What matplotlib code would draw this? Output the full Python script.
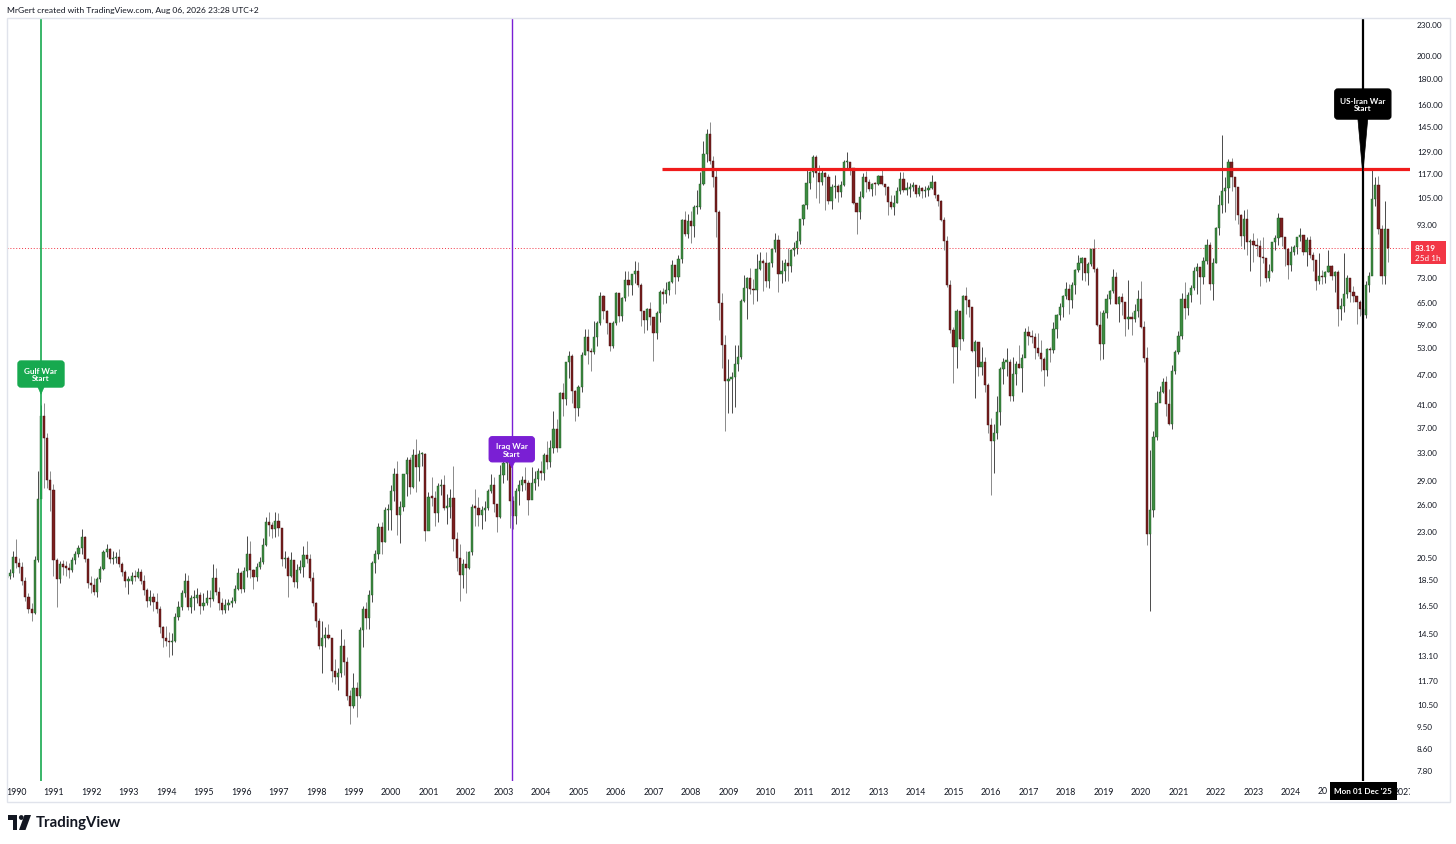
import matplotlib
matplotlib.use("Agg")
import matplotlib.pyplot as plt
import matplotlib.transforms as mtransforms
from matplotlib.patches import Polygon, Rectangle, FancyBboxPatch, Circle
from matplotlib.ticker import NullLocator, NullFormatter
import numpy as np

plt.rcParams['font.family'] = ['Lato', 'DejaVu Sans']

# monthly Brent candles, month index counted from Jan 1990 (first candle = Oct 1989)
first_month = -3
first_open = 18.6

closes = [
    18.8, 19.0, 20.5,                                                          # 1989 Oct-Dec
    19.9, 19.6, 18.4, 17.1, 16.2, 15.9, 20.2, 26.6, 38.9, 35.2, 29.1, 27.8,    # 1990
    20.2, 18.5, 19.8, 19.6, 19.5, 19.3, 20.2, 20.8, 21.3, 22.4, 20.3, 18.2,    # 1991
    18.0, 17.5, 18.5, 19.4, 20.9, 21.2, 20.3, 20.4, 20.5, 19.8, 19.1, 18.4,    # 1992
    18.4, 18.8, 18.7, 19.1, 18.4, 17.6, 16.8, 17.1, 16.7, 16.2, 14.9, 14.2,    # 1993
    14.0, 13.9, 14.0, 15.6, 16.3, 17.4, 18.4, 16.3, 17.0, 17.0, 17.2, 16.4,    # 1994
    16.6, 17.0, 16.9, 18.6, 17.5, 16.6, 16.1, 16.5, 16.6, 16.8, 17.7, 19.0,    # 1995
    17.7, 19.2, 20.8, 19.3, 18.7, 19.6, 20.0, 21.6, 24.0, 23.7, 23.3, 24.1,    # 1996
    23.4, 20.3, 20.4, 18.8, 20.2, 18.3, 19.3, 19.6, 20.7, 20.3, 18.6, 16.6,    # 1997
    15.3, 13.7, 14.2, 14.4, 14.2, 12.2, 11.9, 12.1, 13.7, 12.7, 10.9, 10.4,    # 1998
    11.3, 10.9, 14.7, 16.2, 15.5, 17.2, 19.9, 20.8, 23.5, 21.9, 25.3, 25.3,    # 1999
    27.6, 29.8, 24.8, 25.7, 29.8, 31.8, 28.1, 32.6, 30.8, 32.7, 32.7, 23.0,    # 2000
    26.9, 26.8, 25.0, 28.2, 28.4, 25.6, 25.7, 26.8, 22.2, 20.4, 18.9, 19.8,    # 2001
    19.5, 20.9, 25.7, 25.6, 24.8, 25.4, 25.6, 27.6, 28.4, 26.1, 24.6, 29.7,    # 2002
    31.4, 32.6, 26.4, 24.7, 27.6, 28.4, 29.0, 28.6, 26.5, 28.6, 29.2, 30.2,    # 2003
    30.0, 32.6, 31.5, 33.6, 36.6, 33.6, 43.0, 41.9, 49.6, 51.0, 43.5, 40.3,    # 2004
    44.2, 51.3, 55.6, 52.1, 51.8, 55.6, 59.2, 66.8, 62.6, 59.2, 53.3, 59.3,    # 2005
    67.9, 61.2, 66.3, 72.0, 70.4, 73.9, 75.1, 70.2, 62.5, 60.0, 63.1, 60.9,    # 2006
    56.6, 62.0, 68.1, 67.6, 68.8, 71.4, 77.1, 73.0, 79.2, 94.5, 88.8, 93.9,    # 2007
    91.8, 100.1, 100.3, 111.4, 127.4, 139.8, 123.5, 115.0, 98.2, 64.7, 53.5, 45.6,   # 2008
    45.9, 46.4, 49.2, 50.8, 65.4, 69.3, 72.5, 69.0, 68.8, 75.6, 78.5, 77.9,    # 2009
    71.5, 77.6, 82.7, 86.2, 74.0, 75.0, 77.9, 76.7, 82.3, 83.2, 85.9, 94.8,    # 2010
    101.0, 112.0, 117.4, 125.9, 116.7, 112.5, 116.7, 114.9, 102.8, 109.6, 110.5, 107.4,   # 2011
    110.9, 122.7, 122.9, 119.5, 101.9, 97.8, 104.9, 114.6, 112.4, 108.7, 111.2, 111.1,   # 2012
    115.6, 111.4, 110.0, 102.4, 100.4, 102.2, 107.7, 114.0, 108.4, 108.8, 109.7, 110.8,  # 2013
    106.4, 109.1, 107.8, 108.1, 109.4, 112.4, 106.0, 103.2, 94.7, 85.9, 70.2, 57.3,      # 2014
    53.0, 62.6, 55.1, 66.8, 65.6, 63.6, 52.2, 54.2, 48.4, 49.6, 44.6, 37.3,    # 2015
    34.7, 36.0, 39.6, 48.1, 49.7, 49.7, 42.5, 47.0, 49.1, 48.3, 50.5, 56.8,    # 2016
    55.7, 55.6, 52.8, 51.7, 50.3, 47.9, 52.7, 52.4, 57.5, 61.4, 63.6, 66.9,    # 2017
    69.1, 65.8, 70.3, 75.2, 77.6, 79.4, 74.3, 77.4, 82.7, 75.5, 58.7, 53.8,    # 2018
    61.9, 66.0, 68.4, 72.8, 64.5, 66.6, 65.2, 60.4, 60.8, 60.2, 62.4, 66.0,    # 2019
    58.2, 50.5, 22.7, 25.3, 35.3, 41.2, 43.3, 45.3, 41.0, 37.5, 47.6, 51.8,    # 2020
    55.9, 66.1, 63.5, 67.3, 69.3, 75.1, 76.3, 73.0, 78.3, 84.4, 70.6, 77.8,    # 2021
    91.2, 101.0, 107.9, 109.3, 122.8, 114.8, 110.0, 96.5, 88.0, 94.8, 85.4, 85.9,    # 2022
    84.5, 83.9, 79.8, 79.5, 72.7, 74.9, 85.6, 86.9, 95.3, 87.4, 82.8, 77.0,    # 2023
    81.7, 83.6, 87.5, 88.4, 81.6, 86.4, 80.7, 78.8, 71.8, 73.2, 72.9, 74.6,    # 2024
    76.8, 73.2, 74.7, 63.1, 63.9, 67.6, 72.5, 68.1, 67.0, 65.1, 63.2, 61.3,    # 2025
    70.5, 73.4, 104.0, 111.0, 90.7, 73.4, 90.7, 83.19,                          # 2026 Jan-Aug
]

highs = [
    19.3, 19.4, 21.0,
    22.2, 20.4, 20.0, 18.7, 17.4, 16.6, 20.6, 30.3, 40.9, 41.2, 36.0, 30.2,
    28.5, 20.4, 20.1, 20.2, 20.1, 19.9, 20.5, 21.0, 21.6, 23.3, 22.5, 20.4,
    18.8, 18.6, 18.7, 19.7, 21.1, 21.7, 21.3, 21.0, 20.9, 21.2, 20.0, 19.3,
    18.8, 19.1, 19.3, 19.5, 19.4, 18.9, 17.8, 17.6, 17.4, 17.4, 16.4, 15.0,
    15.0, 14.6, 14.5, 15.9, 16.8, 17.6, 19.0, 18.9, 17.2, 17.6, 17.8, 17.5,
    17.4, 17.6, 17.6, 19.8, 19.5, 17.9, 17.0, 16.9, 16.9, 17.1, 18.0, 19.5,
    19.2, 19.6, 22.5, 22.0, 19.4, 19.9, 20.5, 22.3, 24.6, 25.1, 24.0, 25.1,
    25.0, 23.3, 21.0, 20.6, 20.9, 20.1, 19.8, 20.2, 21.5, 22.0, 20.8, 19.1,
    16.7, 15.5, 15.3, 14.9, 15.1, 14.0, 12.9, 12.4, 14.8, 14.1, 13.0, 11.2,
    12.1, 11.6, 14.9, 16.4, 16.7, 17.6, 20.1, 21.1, 23.9, 24.0, 25.7, 26.1,
    28.4, 30.6, 31.6, 26.4, 29.9, 32.3, 32.2, 33.4, 35.0, 33.2, 33.0, 32.8,
    27.5, 29.5, 27.6, 28.6, 29.2, 29.7, 27.2, 27.9, 31.0, 22.9, 21.7, 20.3,
    21.0, 21.0, 26.0, 27.9, 26.9, 25.8, 26.4, 27.9, 29.9, 29.5, 26.1, 31.1,
    32.7, 34.3, 34.0, 27.0, 28.0, 29.0, 29.6, 30.8, 29.0, 30.8, 30.3, 30.7,
    31.6, 32.8, 34.6, 34.8, 39.8, 38.3, 43.3, 45.0, 49.7, 52.2, 51.5, 43.6,
    44.6, 51.9, 57.5, 57.6, 52.8, 59.8, 59.7, 68.2, 67.3, 62.7, 59.1, 59.8,
    68.3, 67.8, 66.5, 74.8, 74.8, 73.9, 78.6, 78.1, 71.0, 62.0, 63.4, 65.0,
    60.9, 62.4, 68.7, 69.3, 71.3, 71.8, 78.8, 77.2, 80.6, 94.8, 98.5, 96.9,
    98.5, 101.3, 108.3, 117.6, 135.4, 143.0, 147.5, 126.5, 118.6, 98.9, 67.9, 56.0,
    50.4, 47.3, 53.6, 53.6, 66.0, 73.5, 72.9, 75.9, 72.4, 81.0, 81.9, 79.3,
    81.7, 78.2, 82.8, 89.0, 88.4, 78.9, 79.3, 83.4, 82.9, 85.5, 89.8, 94.8,
    101.7, 119.8, 117.9, 127.0, 126.7, 121.5, 119.1, 117.6, 116.4, 111.5, 115.9, 111.5,
    112.7, 124.3, 128.4, 122.8, 119.6, 100.9, 107.6, 117.2, 118.0, 114.0, 111.9, 112.3,
    115.8, 119.2, 111.4, 110.5, 106.0, 105.9, 109.6, 117.3, 117.4, 112.1, 111.8, 112.4,
    110.1, 110.8, 110.0, 110.4, 110.6, 115.7, 112.8, 106.1, 103.6, 95.9, 87.9, 72.1,
    58.2, 63.0, 61.5, 67.1, 69.6, 66.1, 63.2, 54.7, 54.1, 53.1, 50.7, 45.0,
    38.5, 37.5, 42.5, 48.5, 50.5, 52.9, 50.4, 50.8, 49.8, 53.7, 51.5, 57.9,
    58.4, 57.4, 56.7, 56.6, 54.7, 50.7, 52.9, 53.0, 59.5, 61.7, 64.7, 67.1,
    71.3, 70.7, 71.3, 75.5, 80.5, 79.9, 79.4, 78.0, 83.0, 86.7, 76.5, 62.6,
    62.8, 67.5, 68.7, 75.6, 74.5, 66.9, 67.8, 62.5, 71.9, 62.3, 64.6, 68.7,
    71.8, 59.8, 53.0, 33.3, 36.2, 43.4, 44.4, 46.2, 46.5, 43.9, 49.0, 52.5,
    57.0, 67.7, 71.4, 68.1, 70.2, 76.2, 77.8, 76.0, 80.0, 86.7, 85.5, 79.7,
    91.7, 105.8, 139.1, 114.8, 124.4, 125.2, 114.0, 105.6, 97.3, 98.8, 99.4, 86.8,
    89.1, 86.9, 86.3, 87.5, 77.0, 77.5, 85.6, 88.1, 97.7, 93.8, 84.9, 79.9,
    83.8, 84.4, 87.6, 91.0, 84.4, 87.3, 87.9, 81.8, 75.0, 81.2, 75.4, 74.8,
    82.6, 77.0, 74.9, 75.3, 66.3, 81.4, 73.6, 70.0, 70.0, 66.8, 65.7, 64.5,
    71.5, 74.5, 119.5, 114.8, 115.5, 92.5, 103.0, 90.7,
]

lows = [
    18.2, 18.5, 18.7,
    19.5, 19.0, 18.0, 16.8, 15.9, 15.3, 15.8, 20.0, 26.8, 28.0, 28.0, 25.2,
    18.8, 16.3, 18.2, 18.9, 18.8, 18.6, 19.1, 19.8, 20.5, 20.8, 20.0, 17.8,
    17.4, 17.2, 17.1, 18.3, 19.3, 20.5, 19.9, 19.8, 19.9, 19.6, 18.8, 17.9,
    17.3, 18.1, 18.4, 18.6, 18.1, 17.2, 16.3, 16.5, 16.0, 15.9, 14.5, 13.6,
    13.7, 13.0, 13.1, 13.9, 15.4, 16.1, 17.1, 16.1, 15.9, 16.1, 16.6, 15.8,
    16.1, 16.5, 16.3, 16.8, 17.2, 16.1, 15.8, 15.9, 16.1, 16.3, 16.6, 17.6,
    17.4, 17.5, 18.7, 18.6, 17.7, 18.4, 19.4, 19.8, 21.5, 22.5, 22.3, 22.4,
    22.5, 19.7, 19.5, 17.1, 18.7, 17.9, 17.8, 19.0, 18.7, 19.9, 18.4, 16.4,
    14.9, 13.5, 12.1, 13.6, 14.1, 11.6, 11.5, 11.2, 11.9, 12.0, 10.7, 9.6,
    10.3, 9.9, 10.8, 13.6, 14.8, 14.8, 16.7, 19.0, 20.3, 20.8, 21.9, 23.1,
    23.1, 26.4, 22.6, 21.8, 25.2, 27.0, 27.3, 28.0, 27.5, 28.9, 31.0, 22.0,
    23.2, 25.8, 23.6, 24.0, 27.1, 25.4, 23.8, 24.4, 21.0, 19.2, 16.8, 17.8,
    17.4, 19.4, 20.7, 23.6, 23.6, 23.2, 24.1, 25.3, 27.4, 25.1, 22.9, 24.4,
    28.6, 29.1, 23.4, 23.2, 23.8, 25.9, 27.6, 27.8, 24.8, 26.6, 27.8, 28.2,
    29.0, 29.0, 30.5, 30.8, 32.8, 33.0, 34.0, 38.8, 40.8, 46.1, 41.2, 37.9,
    38.9, 43.2, 51.3, 49.1, 47.7, 51.5, 53.4, 58.6, 60.2, 56.3, 52.2, 52.8,
    58.6, 59.6, 59.8, 65.5, 67.0, 67.2, 71.1, 69.8, 58.3, 56.7, 57.3, 58.7,
    49.9, 55.1, 59.4, 64.6, 64.9, 67.1, 70.9, 67.5, 71.7, 77.9, 88.0, 87.2,
    85.0, 87.6, 97.2, 99.2, 110.6, 122.8, 121.6, 110.0, 87.5, 60.0, 48.2, 36.2,
    39.4, 39.4, 40.4, 47.6, 50.2, 65.0, 60.2, 67.5, 64.4, 65.4, 75.3, 68.6,
    69.8, 69.4, 76.2, 81.8, 68.3, 71.0, 71.7, 71.6, 74.7, 80.3, 81.1, 84.9,
    92.5, 99.3, 108.9, 114.8, 104.3, 102.1, 110.9, 98.7, 101.5, 99.2, 104.5, 102.7,
    105.0, 110.4, 119.5, 116.0, 101.6, 88.5, 95.1, 104.4, 107.2, 107.6, 105.6, 105.8,
    110.9, 110.6, 106.0, 96.8, 99.3, 96.8, 101.9, 106.2, 107.2, 106.0, 104.9, 107.6,
    104.9, 105.4, 104.6, 104.8, 105.4, 108.6, 104.2, 100.6, 94.0, 82.6, 69.8, 56.5,
    45.2, 48.3, 52.5, 54.6, 61.6, 60.9, 52.0, 42.2, 46.5, 46.8, 43.3, 36.0,
    27.1, 30.0, 35.0, 37.2, 44.9, 46.5, 41.5, 41.5, 44.6, 48.2, 43.3, 50.9,
    53.6, 54.0, 50.3, 50.9, 47.6, 44.4, 46.6, 49.6, 51.6, 55.2, 60.1, 60.8,
    66.1, 61.8, 63.3, 67.6, 74.7, 71.9, 71.7, 70.3, 76.8, 74.6, 58.4, 50.0,
    50.4, 60.6, 64.5, 67.7, 64.4, 59.4, 61.4, 55.9, 57.7, 56.2, 59.6, 60.8,
    57.9, 49.5, 21.6, 16.0, 24.5, 34.8, 41.5, 43.0, 38.9, 37.3, 36.6, 46.9,
    51.4, 55.0, 60.3, 61.5, 65.1, 68.9, 67.4, 64.6, 70.6, 77.5, 68.9, 65.7,
    77.8, 88.4, 97.4, 98.0, 102.2, 108.0, 94.3, 92.8, 84.1, 83.0, 80.6, 75.1,
    78.1, 80.3, 70.1, 77.7, 71.4, 71.6, 74.6, 82.3, 84.4, 83.9, 76.6, 72.3,
    74.8, 80.6, 81.1, 86.0, 80.6, 76.8, 79.5, 75.1, 68.7, 70.7, 70.8, 71.1,
    74.6, 72.0, 68.3, 58.4, 60.1, 62.2, 66.4, 65.0, 65.0, 59.0, 61.0, 57.6,
    60.5, 68.0, 76.3, 100.5, 88.5, 70.8, 70.7, 78.0,
]

price_ticks = [230, 200, 180, 160, 145, 129, 117, 105, 93, 73, 65, 59, 53, 47, 41,
               37, 33, 29, 26, 23, 20.5, 18.5, 16.5, 14.5, 13.1, 11.7, 10.5, 9.5, 8.6, 7.8]
years = list(range(1990, 2028))
# the cursor tag hides 2025/2026 on the time axis, only "20" of 2025 peeks out
year_labels = [str(y) for y in years]
year_labels[years.index(2025)] = ""
year_labels[years.index(2026)] = ""
last_price = 83.19
countdown = "25d 1h"
resistance = 119.1
resistance_start = 206.7      # month index where the drawn level begins (2007)

events = ["Gulf War\nStart", "Iraq War\nStart", "US-Iran War\nStart"]
event_months = [8.0, 158.65, 431.0]
event_colors = ["#17a94f", "#7a1fd4", "#000000"]
cursor_label = "Mon 01 Dec '25"

# ---- figure -------------------------------------------------------------
W, H = 1456, 845
fig = plt.figure(figsize=(W / 100, H / 100), dpi=100)
fig.patch.set_facecolor("white")
left, right, top, bottom = 7, 1410, 19, 782
ax = fig.add_axes([left / W, 1 - bottom / H, (right - left) / W, (bottom - top) / H])
ax.set_yscale("log")
ax.set_ylim(7.41, 236.3)
ax.set_xlim(-2.88, 446.1)
for s in ax.spines.values():
    s.set_visible(False)

c = np.array(closes)
o = np.array([first_open] + closes[:-1])
hi = np.array(highs)
lo = np.array(lows)
m = np.arange(first_month, first_month + len(c))
up = c >= o

body_fc = np.where(up, "#3d8c41", "#7a1f1f")
body_ec = np.where(up, "#1f5222", "#3e0e0e")
wick_c = np.where(up, "#4a4a4a", "#8a8a8a")

ax.vlines(m, lo, hi, colors=wick_c, linewidth=0.7, zorder=2)
b0 = np.minimum(o, c)
bh = np.maximum(np.abs(c - o), b0 * 0.006)
ax.bar(m, bh, bottom=b0, width=0.7, color=body_fc, edgecolor=body_ec,
       linewidth=0.3, zorder=3)

# axes ticks
ax.yaxis.tick_right()
ax.set_yticks(price_ticks)
ax.set_yticklabels(["%.2f" % p for p in price_ticks])
ax.yaxis.set_minor_locator(NullLocator())
ax.yaxis.set_minor_formatter(NullFormatter())
ax.tick_params(axis="y", length=0, pad=5, labelsize=5.9, labelcolor="#131722")
ax.set_xticks([(y - 1990) * 12 for y in years])
ax.set_xticklabels(year_labels)
ax.tick_params(axis="x", length=0, pad=4.5, labelsize=6.3, labelcolor="#131722")

# levels
ax.hlines(resistance, resistance_start, 446.1, color="#f01b1b", linewidth=2.3, zorder=5)
ax.axhline(last_price, color="#f23645", linewidth=0.7, linestyle=(0, (1, 2)), zorder=1)

# event lines
for em, col, lw in zip(event_months, event_colors, [1.2, 1.0, 1.6]):
    ax.axvline(em, color=col, linewidth=lw, zorder=4)

fig.canvas.draw()
ident = mtransforms.IdentityTransform()


def to_px(mx, p):
    return ax.transData.transform((mx, p))


# callouts: (tip price, box width, box height, gap tip->box, notch width)
callouts = [(42.9, 46, 26, 7, 7), (30.7, 45, 25, 6, 7), (116.4, 56, 30, 55, 10)]
for txt, em, col, (tip_p, bw, bh_, gap, nw) in zip(events, event_months, event_colors, callouts):
    tx, ty = to_px(em, tip_p)
    by0 = ty + gap
    box = FancyBboxPatch((tx - bw / 2, by0), bw, bh_, boxstyle="round,pad=0,rounding_size=3",
                         transform=ident, fc=col, ec=col, zorder=8, clip_on=False)
    ax.add_artist(box)
    tri = Polygon([(tx - nw / 2, by0 + 1), (tx + nw / 2, by0 + 1), (tx, ty)], closed=True,
                  transform=ident, fc=col, ec=col, lw=0.5, zorder=8, clip_on=False)
    ax.add_artist(tri)
    ax.text(tx, by0 + bh_ / 2, txt, transform=ident, ha="center", va="center",
            color="white", fontsize=5.9, fontweight="bold", linespacing=1.15,
            zorder=9, clip_on=False)

# last price tag
x_tag = right + 1
ax.add_artist(Rectangle((x_tag, H - 265), 35, 23, transform=ident, fc="#f23645",
                        ec="none", zorder=8, clip_on=False))
ax.text(x_tag + 4, H - 249, "%.2f" % last_price, transform=ident, ha="left", va="center",
        color="white", fontsize=5.9, fontweight="bold", zorder=9)
ax.text(x_tag + 4, H - 259, countdown, transform=ident, ha="left", va="center",
        color="white", fontsize=5.9, zorder=9)

# cursor date tag on the time axis
cx, _ = to_px(event_months[2], 10)
ax.add_artist(Rectangle((cx - 33, H - 801), 67, 18, transform=ident, fc="black",
                        ec="none", zorder=10, clip_on=False))
ax.text(cx, H - 792, cursor_label, transform=ident, ha="center", va="center",
        color="white", fontsize=5.9, fontweight="bold", zorder=11)
# visible left part of the 2025 year label
y25, _ = to_px((2025 - 1990) * 12, 10)
ax.text(cx - 35, H - 792, "20", transform=ident, ha="right", va="center",
        color="#131722", fontsize=6.3, zorder=11)

# clip the time axis under the price scale
fig.patches.append(Rectangle((right, H - 802), 39, 19, transform=ident, fc="white",
                             ec="none", zorder=5))

# chart frame
fig.patches.append(Rectangle((left, H - 803), 1450 - left, 803 - top, transform=ident,
                             fill=False, ec="#e0e3eb", lw=1, zorder=6))

# header
fig.text(left / W, 1 - 10 / H, "MrGert created with TradingView.com, Aug 06, 2026 23:28 UTC+2",
         ha="left", va="center", fontsize=6.1, color="#131722")

# TradingView logo
logo_c = "#131722"
fig.patches.append(Rectangle((8, H - 821), 9, 5, transform=ident, fc=logo_c, ec="none"))
fig.patches.append(Rectangle((12.5, H - 831), 4.5, 15, transform=ident, fc=logo_c, ec="none"))
fig.patches.append(Circle((21.3, H - 818.5), 2.4, transform=ident, fc=logo_c, ec="none"))
fig.patches.append(Polygon([(24.5, H - 816), (31, H - 816), (25.5, H - 831), (19, H - 831)],
                           closed=True, transform=ident, fc=logo_c, ec="none"))
fig.text(36 / W, 1 - 823.5 / H, "TradingView", ha="left", va="center", fontsize=10.8,
         fontweight="bold", color=logo_c)

fig.savefig("out.png", dpi=100, facecolor="white")
